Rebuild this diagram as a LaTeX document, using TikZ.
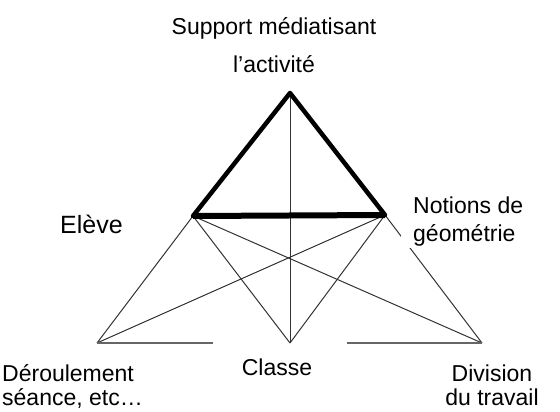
\documentclass[tikz,border=0pt]{standalone}
\usepackage{fontspec}
\setmainfont{Liberation Sans}
\usetikzlibrary{calc}

\begin{document}
\begin{tikzpicture}[x=1pt,y=-1pt]
			\tikzset{thin line/.style={draw=black!80,line width=1pt}}
			\tikzset{thick line/.style={draw=black,line width=4.5pt,line join=round,line cap=round}}
			\tikzset{base line/.style={draw=black!60,line width=2pt}}
			\tikzset{lbl/.style={font=\fontsize{23}{24}\selectfont,inner sep=0pt}}
			\useasboundingbox (0,0) rectangle (560,412);
			% sommets
			\coordinate (apex) at (290,93);
			\coordinate (eleve) at (193,216);
			\coordinate (notion) at (385,215);
			\coordinate (deroul) at (97,343);
			\coordinate (classe) at (290,343);
			\coordinate (division) at (482,343);
			\coordinate (gapL) at (213,343);
			\coordinate (gapR) at (347,343);
			% lignes fines
			\draw[thin line] (apex) -- (classe);
			\foreach \a in {eleve,notion}
				\foreach \b in {deroul,classe,division}
					\draw[thin line] (\a) -- (\b);
			\draw[base line] (deroul) -- (gapL);
			\draw[base line] (gapR) -- (division);
			% triangle
			\draw[thick line] (eleve) -- (apex) -- (notion);
			\draw[draw=black,line width=6pt] (eleve) -- (notion);
			% textes
			\node[lbl,anchor=base] (tsupport) at (274,35) {Support médiatisant};
			\node[lbl,anchor=base] (tactivite) at (274,73) {l’activité};
			\node[lbl,font=\fontsize{25}{28}\selectfont,anchor=base west] (televe) at (60,233) {Elève};
			\node[lbl,font=\fontsize{23}{28}\selectfont,fill=white,inner xsep=12pt,inner ysep=2pt,align=left,anchor=base west] (tnotion) at (401,241) {Notions de\\géométrie};
			\node[lbl,anchor=base] (tclasse) at (277,375) {Classe};
			\node[lbl,align=left,anchor=base west] (tderoul) at (2,405) {Déroulement\\séance, etc…};
			\node[lbl,align=center,anchor=base] (tdivision) at (492,405) {Division\\du travail};
\end{tikzpicture}
\end{document}
